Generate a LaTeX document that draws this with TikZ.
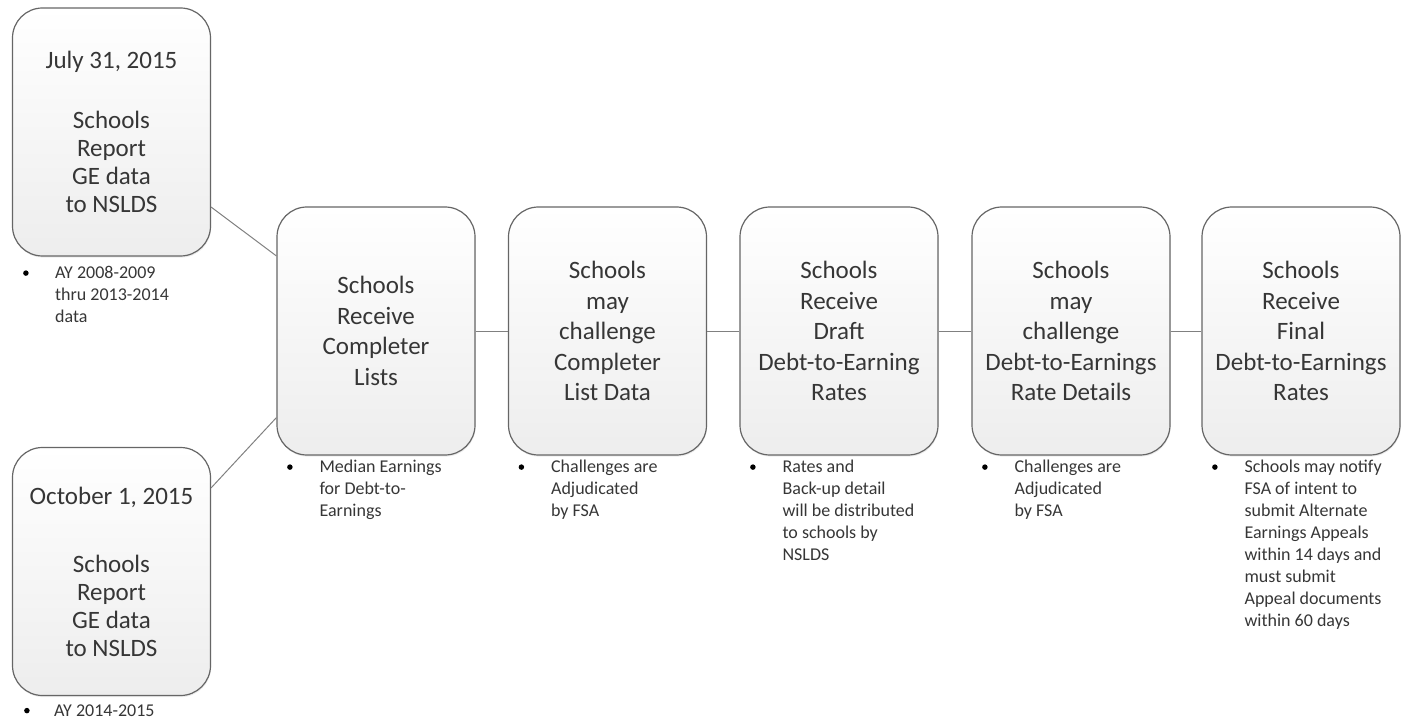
\documentclass[tikz,border=0pt]{standalone}
\usepackage{fontspec}
\setmainfont{Carlito}
\usetikzlibrary{calc,shadows}
\definecolor{boxline}{HTML}{666666}
\definecolor{txt}{HTML}{363636}
\definecolor{connc}{HTML}{808080}
\tikzset{
  stage/.style={draw=boxline, line width=1.2pt, rounded corners=30pt,
    top color=white, bottom color=black!7,
    minimum width=198pt, minimum height=248pt, inner sep=0pt,
    align=center, text=txt, font=\fontsize{25}{30.5}\selectfont,
    drop shadow={opacity=0.15, shadow xshift=0.6pt, shadow yshift=-1.6pt}},
  datestage/.style={stage, font=\fontsize{25}{28}\selectfont},
  conn/.style={draw=connc, line width=1pt},
  note/.style={anchor=base west, inner sep=0pt, text=txt, font=\fontsize{18}{22}\selectfont},
  bul/.style={circle, fill=black, inner sep=0pt, minimum size=5.5pt}
}
\newcommand{\lines}[1]{\begin{tabular}[t]{@{}l@{}}#1\end{tabular}}
\begin{document}
\begin{tikzpicture}[x=1pt,y=-1pt]
\useasboundingbox (0,0) rectangle (1401,722);

\node[datestage] (A) at (111.5,132) {July 31, 2015\\[32pt]Schools\\Report\\GE data\\to NSLDS};
\node[datestage] (B) at (111.5,571.5) {October 1, 2015\\[40pt]Schools\\Report\\GE data\\to NSLDS};
\node[stage] (C) at (376,331) {Schools\\Receive\\Completer\\Lists};
\node[stage] (D) at (607.5,331) {Schools\\may\\challenge\\Completer\\List Data};
\node[stage] (E) at (839,331) {Schools\\Receive\\Draft\\Debt-to-Earning\\Rates};
\node[stage] (F) at (1071,331) {Schools\\may\\challenge\\Debt-to-Earnings\\Rate Details};
\node[stage] (G) at (1301,331) {Schools\\Receive\\Final\\Debt-to-Earnings\\Rates};

\draw[conn] (A.-37) -- (C.143);
\draw[conn] (B.40) -- (C.221);
\draw[conn] (C.east) -- (D.west);
\draw[conn] (D.east) -- (E.west);
\draw[conn] (E.east) -- (F.west);
\draw[conn] (F.east) -- (G.west);

\node[bul] (bA) at ($(A.south west)+(14,16.5)$) {};
\node[note] (nA) at ($(A.south west)+(43,22)$) {\lines{AY 2008-2009\\thru 2013-2014\\data}};
\node[bul] (bB) at ($(B.south west)+(15,14.5)$) {};
\node[note] (nB) at ($(B.south west)+(42,20)$) {\lines{AY 2014-2015}};
\node[bul] (bC) at ($(C.south west)+(13.5,11.5)$) {};
\node[note] (nC) at ($(C.south west)+(43,17)$) {\lines{Median Earnings\\for Debt-to-\\Earnings}};
\node[bul] (bD) at ($(D.south west)+(13.5,11.5)$) {};
\node[note] (nD) at ($(D.south west)+(43,17)$) {\lines{Challenges are\\Adjudicated\\by FSA}};
\node[bul] (bE) at ($(E.south west)+(13.5,11.5)$) {};
\node[note] (nE) at ($(E.south west)+(43,17)$) {\lines{Rates and\\Back-up detail\\will be distributed\\to schools by\\NSLDS}};
\node[bul] (bF) at ($(F.south west)+(13.5,11.5)$) {};
\node[note] (nF) at ($(F.south west)+(43,17)$) {\lines{Challenges are\\Adjudicated\\by FSA}};
\node[bul] (bG) at ($(G.south west)+(13.5,11.5)$) {};
\node[note] (nG) at ($(G.south west)+(43,17)$) {\lines{Schools may notify\\FSA of intent to\\submit Alternate\\Earnings Appeals\\within 14 days and\\must submit\\Appeal documents\\within 60 days}};
\end{tikzpicture}
\end{document}
